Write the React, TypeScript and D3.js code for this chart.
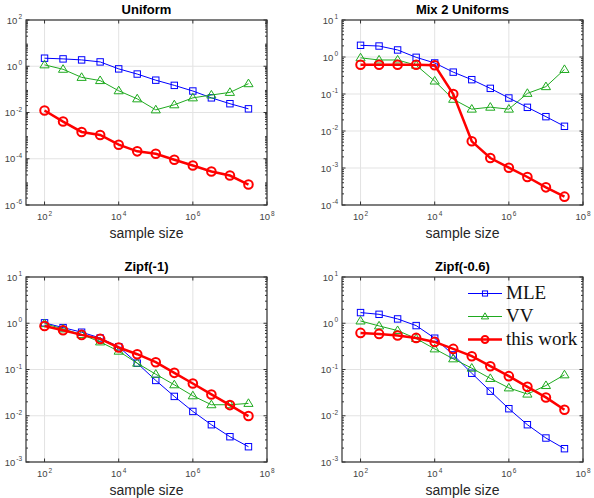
import { useEffect, useRef } from "react";
import * as d3 from "d3";

// sample sizes (half-decade steps, 10^2 .. 10^7.5)
const sampleSizes = [100, 316, 1000, 3162, 10000, 31623, 100000, 316228, 1000000, 3162278, 10000000, 31622777];

const seriesNames = ["MLE", "VV", "this work"];

// Uniform
const uniformMLE = [2.23, 2.08, 1.88, 1.54, 0.77, 0.46, 0.25, 0.149, 0.085, 0.043, 0.024, 0.0144];
const uniformVV = [1.15, 0.74, 0.33, 0.24, 0.087, 0.039, 0.013, 0.0215, 0.043, 0.057, 0.074, 0.176];
const uniformOurs = [0.0122, 0.00406, 0.00144, 0.00107, 0.000406, 0.000209, 0.000165, 9.05e-5, 5.13e-5, 2.81e-5, 1.88e-5, 7.65e-6];

// Mix 2 Uniforms
const mixMLE = [2.07, 1.98, 1.55, 0.98, 0.69, 0.39, 0.244, 0.142, 0.078, 0.0436, 0.0244, 0.0134];
const mixVV = [0.95, 0.83, 0.83, 0.6, 0.224, 0.072, 0.039, 0.044, 0.039, 0.104, 0.158, 0.46];
const mixOurs = [0.62, 0.62, 0.62, 0.62, 0.6, 0.1, 0.00526, 0.00186, 0.00102, 0.000571, 0.0003, 0.000168];

// Zipf(-1)
const zipf1MLE = [1.02, 0.805, 0.64, 0.48, 0.31, 0.137, 0.058, 0.0262, 0.0124, 0.0064, 0.00352, 0.00214];
const zipf1VV = [0.98, 0.755, 0.569, 0.395, 0.249, 0.137, 0.079, 0.0467, 0.027, 0.0173, 0.0173, 0.0185];
const zipf1Ours = [0.875, 0.706, 0.56, 0.459, 0.299, 0.214, 0.144, 0.0847, 0.0499, 0.0289, 0.017, 0.00985];

// Zipf(-0.6)
const zipf06MLE = [1.7, 1.56, 1.24, 0.89, 0.475, 0.207, 0.083, 0.034, 0.0142, 0.0064, 0.0033, 0.00194];
const zipf06VV = [1.12, 0.875, 0.695, 0.467, 0.279, 0.17, 0.107, 0.064, 0.04, 0.0294, 0.045, 0.0767];
const zipf06Ours = [0.618, 0.589, 0.542, 0.482, 0.395, 0.279, 0.194, 0.118, 0.0718, 0.0422, 0.0249, 0.0135];

const xTickExps = [2, 4, 6, 8];

const panels = [
  { title: "Uniform", yExps: [-6, -4, -2, 0, 2], data: [uniformMLE, uniformVV, uniformOurs], left: 26, top: 20 },
  { title: "Mix 2 Uniforms", yExps: [-4, -3, -2, -1, 0, 1], data: [mixMLE, mixVV, mixOurs], left: 342, top: 20 },
  { title: "Zipf(-1)", yExps: [-3, -2, -1, 0, 1], data: [zipf1MLE, zipf1VV, zipf1Ours], left: 26, top: 277 },
  { title: "Zipf(-0.6)", yExps: [-3, -2, -1, 0, 1], data: [zipf06MLE, zipf06VV, zipf06Ours], left: 342, top: 277, legend: true },
];

const colors = ["#0000ff", "#1faa1f", "#ff0000"];
const W = 594;
const H = 498;
const pw = 241;
const ph = 185;
const sans = "'Liberation Sans', Arial, sans-serif";

function drawMarker(g: d3.Selection<SVGGElement, unknown, null, undefined>, k: number, cx: number, cy: number, s = 1) {
  if (k === 0) {
    const h = 3.2 * s;
    g.append("rect").attr("x", cx - h).attr("y", cy - h).attr("width", 2 * h).attr("height", 2 * h)
      .attr("fill", "none").attr("stroke", colors[0]).attr("stroke-width", 1);
  } else if (k === 1) {
    const a = 4.6 * s;
    const b = 3 * s;
    g.append("path").attr("d", `M${cx},${cy - a}L${cx + a},${cy + b}L${cx - a},${cy + b}Z`)
      .attr("fill", "none").attr("stroke", colors[1]).attr("stroke-width", 1);
  } else {
    g.append("circle").attr("cx", cx).attr("cy", cy).attr("r", 4.3 * s)
      .attr("fill", "none").attr("stroke", colors[2]).attr("stroke-width", 2);
  }
}

function pow10Label(sel: d3.Selection<SVGTextElement, unknown, null, undefined>, e: number) {
  sel.append("tspan").text("10");
  sel.append("tspan").attr("font-size", 6.5).attr("dy", -4.5).attr("dx", 1).text(String(e));
}

export default function App() {
  const ref = useRef<SVGSVGElement | null>(null);

  useEffect(() => {
    if (!ref.current) return;
    const svg = d3.select(ref.current);
    svg.selectAll("*").remove();
    svg.append("rect").attr("width", W).attr("height", H).attr("fill", "#fff");

    panels.forEach((p) => {
      const g = svg.append("g").attr("transform", `translate(${p.left},${p.top})`);
      const x = d3.scaleLog().domain([10 ** 1.5, 1e8]).range([0, pw]);
      const yLo = p.yExps[0];
      const yHi = p.yExps[p.yExps.length - 1];
      const y = d3.scaleLog().domain([10 ** yLo, 10 ** yHi]).range([ph, 0]);

      // grid
      xTickExps.forEach((e) => {
        g.append("line").attr("x1", x(10 ** e)).attr("x2", x(10 ** e)).attr("y1", 0).attr("y2", ph)
          .attr("stroke", "#e3e3e3").attr("stroke-width", 1);
      });
      p.yExps.forEach((e) => {
        g.append("line").attr("x1", 0).attr("x2", pw).attr("y1", y(10 ** e)).attr("y2", y(10 ** e))
          .attr("stroke", "#e3e3e3").attr("stroke-width", 1);
      });

      // minor y ticks
      for (let e = yLo; e < yHi; e++) {
        for (let m = 2; m <= 9; m++) {
          const yy = y(m * 10 ** e);
          g.append("line").attr("x1", 0).attr("x2", 2).attr("y1", yy).attr("y2", yy).attr("stroke", "#333");
          g.append("line").attr("x1", pw).attr("x2", pw - 2).attr("y1", yy).attr("y2", yy).attr("stroke", "#333");
        }
      }
      // major ticks
      p.yExps.forEach((e) => {
        const yy = y(10 ** e);
        g.append("line").attr("x1", 0).attr("x2", 3.5).attr("y1", yy).attr("y2", yy).attr("stroke", "#333");
        g.append("line").attr("x1", pw).attr("x2", pw - 3.5).attr("y1", yy).attr("y2", yy).attr("stroke", "#333");
        const t = g.append("text").attr("x", -4).attr("y", yy + 3.5).attr("text-anchor", "end")
          .attr("font-family", sans).attr("font-size", 9.5).attr("fill", "#444");
        pow10Label(t, e);
      });
      xTickExps.forEach((e) => {
        const xx = x(10 ** e);
        g.append("line").attr("x1", xx).attr("x2", xx).attr("y1", ph).attr("y2", ph - 3.5).attr("stroke", "#333");
        g.append("line").attr("x1", xx).attr("x2", xx).attr("y1", 0).attr("y2", 3.5).attr("stroke", "#333");
        const t = g.append("text").attr("x", xx).attr("y", ph + 15).attr("text-anchor", "middle")
          .attr("font-family", sans).attr("font-size", 9.5).attr("fill", "#444");
        pow10Label(t, e);
      });

      // box
      g.append("rect").attr("x", 0).attr("y", 0).attr("width", pw).attr("height", ph)
        .attr("fill", "none").attr("stroke", "#333").attr("stroke-width", 1.2);

      // series
      const line = d3.line<number>().x((_, i) => x(sampleSizes[i])).y((d) => y(d));
      p.data.forEach((vals, k) => {
        g.append("path").datum(vals).attr("d", line).attr("fill", "none")
          .attr("stroke", colors[k]).attr("stroke-width", k === 2 ? 2.5 : 1);
        vals.forEach((v, i) => drawMarker(g, k, x(sampleSizes[i]), y(v)));
      });

      // title & xlabel
      g.append("text").attr("x", pw / 2).attr("y", -6).attr("text-anchor", "middle")
        .attr("font-family", sans).attr("font-weight", "bold").attr("font-size", 13).attr("fill", "#000")
        .text(p.title);
      g.append("text").attr("x", pw / 2).attr("y", ph + 33).attr("text-anchor", "middle")
        .attr("font-family", sans).attr("font-size", 14).attr("fill", "#262626")
        .text("sample size");

      if (p.legend) {
        seriesNames.forEach((name, k) => {
          const ly = 16.5 + k * 23;
          const lx0 = 126;
          const lx1 = 160;
          g.append("line").attr("x1", lx0).attr("x2", lx1).attr("y1", ly).attr("y2", ly)
            .attr("stroke", colors[k]).attr("stroke-width", k === 2 ? 2.5 : 1);
          drawMarker(g, k, (lx0 + lx1) / 2, ly, 0.8);
          g.append("text").attr("x", lx1 + 4).attr("y", ly + 5)
            .attr("font-family", "'Liberation Serif', 'Times New Roman', serif").attr("font-size", 19)
            .attr("fill", "#111").text(name);
        });
      }
    });
  }, []);

  return <svg ref={ref} width={W} height={H} style={{ position: "absolute", left: 0, top: 0 }} />;
}
